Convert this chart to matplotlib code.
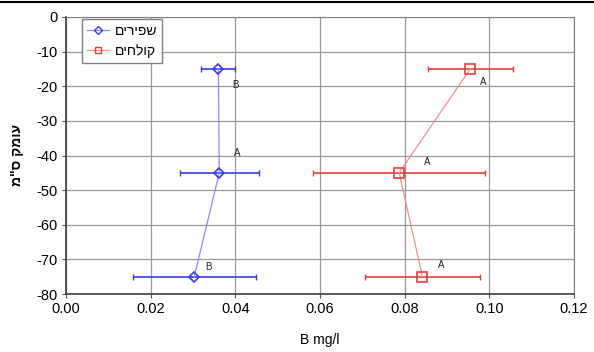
import matplotlib.pyplot as plt
from matplotlib.lines import Line2D

plt.rcParams['font.family'] = ['Liberation Sans', 'DejaVu Sans']
plt.rcParams['axes.unicode_minus'] = False

# depth of the samples (cm, negative = below surface)
depth = [-15, -45, -75]

# fresh water (blue) - mean boron and error
fresh_b = [0.0360, 0.0362, 0.0303]
fresh_err = [0.0040, 0.0093, 0.0145]
fresh_letters = ['B', 'A', 'B']
fresh_letter_x = [0.0400, 0.0404, 0.0336]
fresh_letter_y = [-19.7, -39.3, -72.2]

# effluent (red) - mean boron and error
eff_b = [0.0955, 0.0787, 0.0842]
eff_err = [0.0100, 0.0203, 0.0136]
eff_letters = ['A', 'A', 'A']
eff_letter_x = [0.0986, 0.0853, 0.0886]
eff_letter_y = [-18.7, -41.8, -71.5]

# hebrew strings in visual order (matplotlib has no bidi)
label_fresh = 'שפירים'[::-1]
label_eff = 'קולחים'[::-1]
ylabel = 'עומק ס"מ'[::-1]

blue = '#3c3ce6'
blue_line = '#8c8cf0'
red = '#e83c3c'
red_line = '#f09090'

fig = plt.figure(figsize=(5.94, 3.52), dpi=100)
ax = fig.add_axes([66 / 594, 1 - 294 / 352, 508 / 594, 277 / 352])

ax.errorbar(fresh_b, depth, xerr=fresh_err, fmt='none', ecolor=blue,
            elinewidth=1.2, capsize=2, capthick=1, zorder=3)
ax.plot(fresh_b, depth, color=blue_line, lw=0.9, marker='D', ms=5.5,
        mfc='none', mec=blue, mew=1.2, zorder=4)

ax.errorbar(eff_b, depth, xerr=eff_err, fmt='none', ecolor=red,
            elinewidth=1.2, capsize=2, capthick=1, zorder=3)
ax.plot(eff_b, depth, color=red_line, lw=0.9, marker='s', ms=7,
        mfc='none', mec=red, mew=1.2, zorder=4)

for x, y, t in zip(fresh_letter_x, fresh_letter_y, fresh_letters):
    ax.text(x, y, t, fontsize=7, ha='center', va='center', color='#222222')
for x, y, t in zip(eff_letter_x, eff_letter_y, eff_letters):
    ax.text(x, y, t, fontsize=7, ha='center', va='center', color='#222222')

ax.set_xlim(0, 0.12)
ax.set_ylim(-80, 0)
ax.set_xticks([0, 0.02, 0.04, 0.06, 0.08, 0.10, 0.12])
ax.set_xticklabels(['0.00', '0.02', '0.04', '0.06', '0.08', '0.10', '0.12'])
ax.set_yticks(range(-80, 1, 10))
ax.grid(True, color='#999999', lw=0.9)
ax.set_axisbelow(True)
ax.tick_params(labelsize=10.5, length=3, color='#555555', pad=3)

for side in ['top', 'right']:
    ax.spines[side].set_color('#808080')
for side in ['left', 'bottom']:
    ax.spines[side].set_color('#404040')
    ax.spines[side].set_linewidth(1.2)

ax.set_xlabel('B mg/l', fontsize=10, labelpad=12)
ax.set_ylabel(ylabel, fontsize=10, fontweight='bold', labelpad=9)

handles = [
    Line2D([], [], color=blue_line, lw=0.9, marker='D', ms=4, mfc='none', mec=blue),
    Line2D([], [], color=red_line, lw=0.9, marker='s', ms=5, mfc='none', mec=red),
]
ax.legend(handles, [label_fresh, label_eff], loc='upper left',
          bbox_to_anchor=(0.031, 0.993), fontsize=10, frameon=True,
          fancybox=False, edgecolor='#808080', framealpha=1,
          handlelength=1.6, handletextpad=0.4, borderpad=0.35,
          labelspacing=0.45, borderaxespad=0)

# thin black rule along the top edge
fig.add_artist(Line2D([0, 1], [1 - 1.5 / 352, 1 - 1.5 / 352],
                      transform=fig.transFigure, color='black', lw=1.5))

fig.savefig('out.png', dpi=100)
